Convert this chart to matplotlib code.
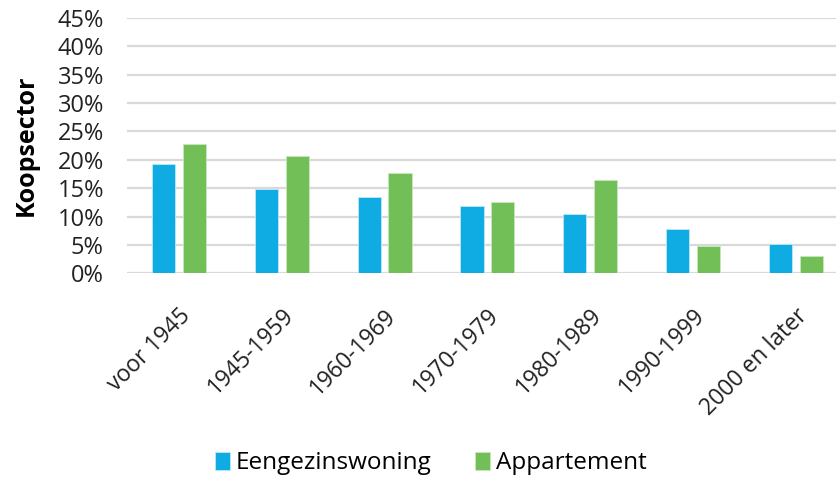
import matplotlib
matplotlib.use("Agg")
import matplotlib.pyplot as plt
import numpy as np

# bouwperiode en aandeel per woningtype (koopsector), in procenten
periods = ["voor 1945", "1945-1959", "1960-1969", "1970-1979",
           "1980-1989", "1990-1999", "2000 en later"]
eengezins = [19.2, 14.9, 13.5, 11.9, 10.5, 7.8, 5.1]
appartement = [22.8, 20.6, 17.6, 12.6, 16.5, 4.8, 3.0]
yticks = [0, 5, 10, 15, 20, 25, 30, 35, 40, 45]

BLUE = "#0eace2"
GREEN = "#73bf57"

plt.rcParams["font.family"] = ["Open Sans", "DejaVu Sans"]

fig = plt.figure(figsize=(8.37, 4.79), dpi=100)
ax = fig.add_axes([0.1523, 0.4294, 0.8477, 0.5330])

x = np.arange(len(periods))
w = 0.225
ax.bar(x - 0.15, eengezins, w, color=BLUE, edgecolor="#bfe9f7", linewidth=0.6,
       label="Eengezinswoning", zorder=3)
ax.bar(x + 0.15, appartement, w, color=GREEN, edgecolor="#c8e8bc", linewidth=0.6,
       label="Appartement", zorder=3)

ax.set_xlim(-0.5, 6.40)
ax.set_ylim(0, 45)
ax.set_yticks(yticks)
ax.set_yticklabels([f"{v}%" for v in yticks], fontsize=17, color="#222222")
ax.yaxis.grid(True, color="#d9d9d9", linewidth=1.6, zorder=0)
ax.set_axisbelow(True)
for s in ax.spines.values():
    s.set_visible(False)
ax.tick_params(axis="y", length=0, pad=17)
ax.tick_params(axis="x", length=0, pad=22)

ax.set_xticks(x)
ax.set_xticklabels(periods, rotation=45, ha="right", va="top",
                   rotation_mode="anchor", fontsize=16.5, color="#222222")

ax.set_ylabel("Koopsector", fontsize=18, fontweight="bold")
ax.yaxis.set_label_coords(-0.125, 0.5)

fig.legend(loc="center", bbox_to_anchor=(0.515, 0.033), ncol=2, frameon=False,
           fontsize=17.5, handlelength=0.6, handleheight=0.75, handletextpad=0.25,
           columnspacing=1.8)

fig.savefig("out.png", dpi=100)
